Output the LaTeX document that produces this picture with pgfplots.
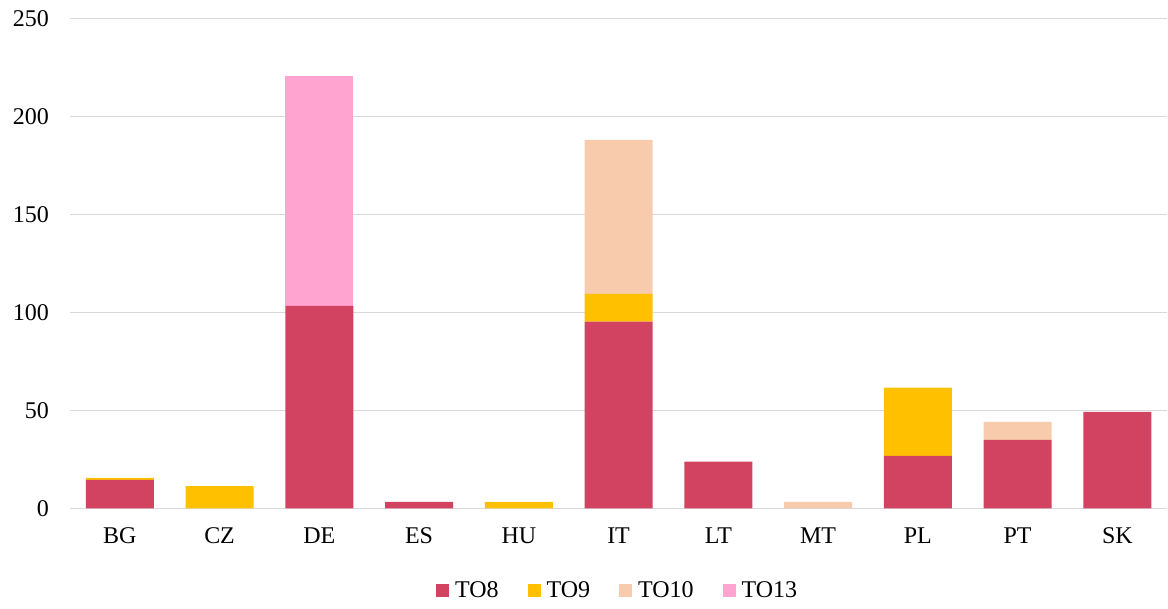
\documentclass[border=0pt]{standalone}
\usepackage{pgfplots}
\pgfplotsset{compat=1.18}
\usetikzlibrary{calc}
\usepackage{fontspec}
\setmainfont{Liberation Serif}
\definecolor{cTOe}{HTML}{D24361}
\definecolor{cTOn}{HTML}{FFC000}
\definecolor{cTOt}{HTML}{F8CBAD}
\definecolor{cTOd}{HTML}{FFA3D1}
\definecolor{gridc}{HTML}{D9D9D9}
\begin{document}
\begin{tikzpicture}
\begin{axis}[
    ybar stacked,
    bar width=34pt,
    scale only axis,
    width=549pt,
    height=245pt,
    xmin=-0.5, xmax=10.5,
    ymin=0, ymax=250,
    xtick={0,...,10},
    xticklabels={BG,CZ,DE,ES,HU,IT,LT,MT,PL,PT,SK},
    ytick={0,50,...,250},
    axis x line*=bottom,
    axis y line*=left,
    y axis line style={draw=none},
    x axis line style={gridc, line width=0.8pt},
    major tick length=0pt,
    ymajorgrids,
    grid style={gridc, line width=0.8pt},
    font=\fontsize{12pt}{14pt}\selectfont,
    /pgf/number format/assume math mode=true,
    yticklabel style={xshift=-7pt},
    xticklabel style={yshift=-6pt},
    legend style={at={(0.5,-0.168)}, anchor=center, draw=none,
        legend columns=4,
        /tikz/every odd column/.append style={column sep=1pt},
        /tikz/every even column/.append style={column sep=12.5pt}},
    legend image code/.code={\fill[#1] (0pt,-3.2pt) rectangle (6.5pt,3.2pt);},
    clip=false,
]
\addplot[fill=cTOe, draw=none] coordinates {
  (0,14.5) (1,0) (2,103.4) (3,3.3) (4,0) (5,95.3) (6,23.9) (7,0) (8,26.8) (9,34.9) (10,49.2)};
\addlegendentry{TO8}
\addplot[fill=cTOn, draw=none] coordinates {
  (0,1.0) (1,11.4) (2,0) (3,0) (4,3.3) (5,14.2) (6,0) (7,0) (8,34.8) (9,0) (10,0)};
\addlegendentry{TO9}
\addplot[fill=cTOt, draw=none] coordinates {
  (0,0) (1,0) (2,0) (3,0) (4,0) (5,78.6) (6,0) (7,3.3) (8,0) (9,9.2) (10,0)};
\addlegendentry{TO10}
\addplot[fill=cTOd, draw=none] coordinates {
  (0,0) (1,0) (2,117.4) (3,0) (4,0) (5,0) (6,0) (7,0) (8,0) (9,0) (10,0)};
\addlegendentry{TO13}
\end{axis}
\path[use as bounding box] ($(current axis.south west)+(-35pt,-49.75pt)$)
  rectangle ($(current axis.north east)+(0pt,9.35pt)$);
\end{tikzpicture}
\end{document}
